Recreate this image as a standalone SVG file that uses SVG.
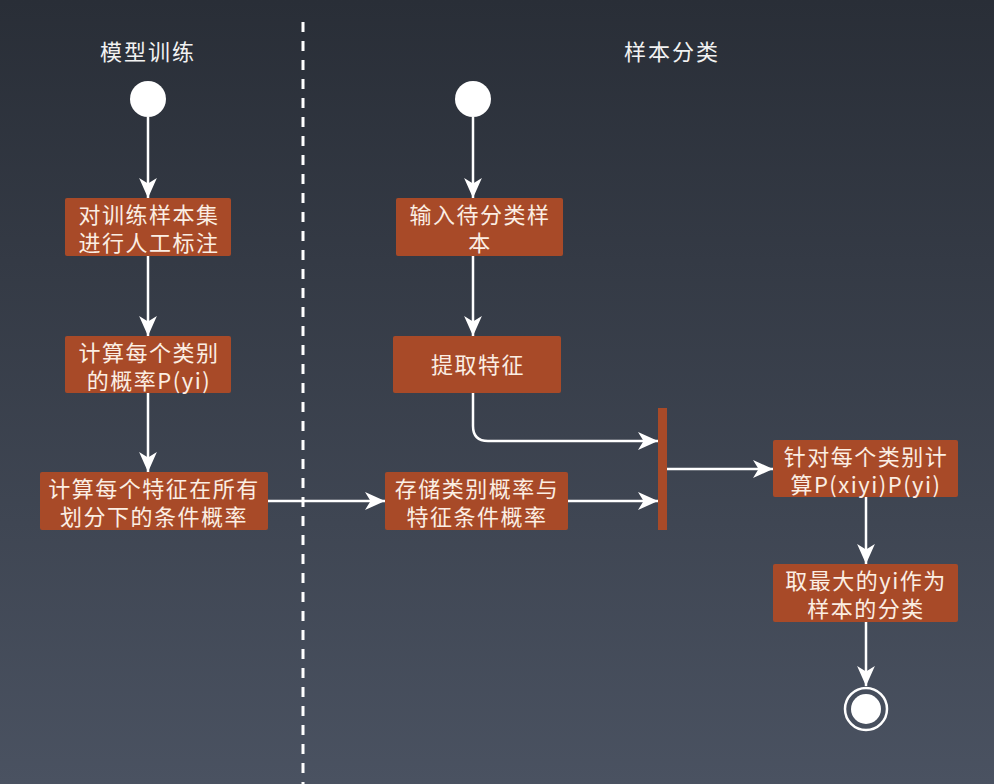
<svg xmlns="http://www.w3.org/2000/svg" width="994" height="784" viewBox="0 0 994 784">
<defs>
<linearGradient id="bg" x1="0" y1="0" x2="0" y2="1">
<stop offset="0" stop-color="#292e37"/>
<stop offset="1" stop-color="#4a5261"/>
</linearGradient>
<marker id="arr" markerUnits="userSpaceOnUse" markerWidth="20" markerHeight="18" viewBox="0 0 18 16" refX="18" refY="8" orient="auto">
<path d="M0,0 L18,8 L0,16 L5,8 z" fill="#ffffff"/>
</marker>
</defs>
<style>
.box{fill:#a84a28;}
.t{font-family:"Noto Sans CJK SC","Noto Sans",sans-serif;font-size:22px;fill:#fbeee3;text-anchor:middle;letter-spacing:1.5px;}
.title{font-family:"Noto Sans CJK SC","Noto Sans",sans-serif;font-size:22px;fill:#f2f2f2;text-anchor:middle;letter-spacing:2px;}
.c{stroke:#ffffff;stroke-width:2.5;fill:none;marker-end:url(#arr);}
</style>
<rect width="994" height="784" fill="url(#bg)"/>
<line x1="303" y1="22" x2="303" y2="784" stroke="#ffffff" stroke-width="3" stroke-dasharray="10 9"/>
<g id="titles">
<text class="title" x="148" y="60">模型训练</text>
<text class="title" x="672" y="60">样本分类</text>
</g>
<g id="connectors">
<line class="c" x1="148" y1="117" x2="148" y2="198"/>
<line class="c" x1="148" y1="256" x2="148" y2="336"/>
<line class="c" x1="148" y1="393" x2="148" y2="472"/>
<line class="c" x1="268" y1="501" x2="385" y2="501"/>
<line class="c" x1="473" y1="117" x2="473" y2="198"/>
<line class="c" x1="473" y1="256" x2="473" y2="336"/>
<path class="c" d="M473,393 V426 Q473,441 488,441 H658"/>
<line class="c" x1="568" y1="501" x2="658" y2="501"/>
<line class="c" x1="667" y1="469" x2="773" y2="469"/>
<line class="c" x1="866" y1="497" x2="866" y2="564"/>
<line class="c" x1="866" y1="622" x2="866" y2="686"/>
</g>
<g id="start1"><circle cx="148" cy="99" r="18" fill="#ffffff"/></g>
<g id="start2"><circle cx="473" cy="99" r="18" fill="#ffffff"/></g>
<g id="n1"><rect class="box" x="65" y="198" width="166" height="58" rx="2"/>
<text class="t" x="149" y="223">对训练样本集</text><text class="t" x="149" y="251">进行人工标注</text></g>
<g id="n2"><rect class="box" x="65" y="336" width="166" height="57" rx="2"/>
<text class="t" x="149" y="361">计算每个类别</text><text class="t" x="149" y="389">的概率P(yi)</text></g>
<g id="n3"><rect class="box" x="40" y="472" width="228" height="58" rx="2"/>
<text class="t" x="154" y="497">计算每个特征在所有</text><text class="t" x="154" y="525">划分下的条件概率</text></g>
<g id="n4"><rect class="box" x="396" y="198" width="167" height="58" rx="2"/>
<text class="t" x="480" y="223">输入待分类样</text><text class="t" x="480" y="251">本</text></g>
<g id="n5"><rect class="box" x="393" y="336" width="168" height="57" rx="2"/>
<text class="t" x="478" y="373">提取特征</text></g>
<g id="n6"><rect class="box" x="385" y="472" width="183" height="58" rx="2"/>
<text class="t" x="477" y="497">存储类别概率与</text><text class="t" x="477" y="525">特征条件概率</text></g>
<g id="bar"><rect x="658" y="408" width="9" height="122" fill="#a84a28"/></g>
<g id="n7"><rect class="box" x="773" y="440" width="185" height="57" rx="2"/>
<text class="t" x="866" y="465">针对每个类别计</text><text class="t" x="866" y="493">算P(xiyi)P(yi)</text></g>
<g id="n8"><rect class="box" x="773" y="564" width="185" height="58" rx="2"/>
<text class="t" x="866" y="589">取最大的yi作为</text><text class="t" x="866" y="617">样本的分类</text></g>
<g id="end"><circle cx="866" cy="709" r="21" fill="none" stroke="#ffffff" stroke-width="2.5"/><circle cx="866" cy="709" r="15" fill="#ffffff"/></g>
</svg>
